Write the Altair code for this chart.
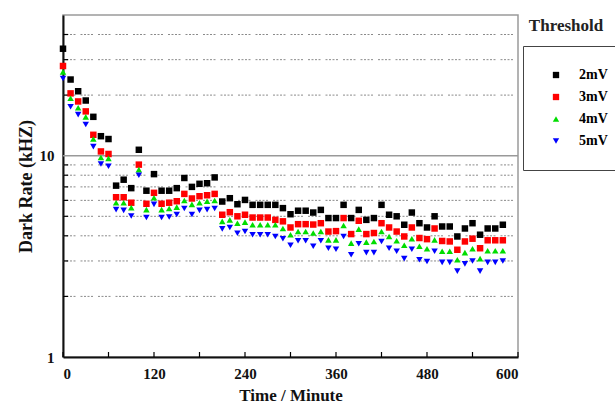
import altair as alt
import pandas as pd

# ---- data ----
times = [0, 10, 20, 30, 40, 50, 60, 70, 80, 90, 100, 110, 120, 130, 140, 150, 160, 170, 180, 190,
         200, 210, 220, 230, 240, 250, 260, 270, 280, 290, 300, 310, 320, 330, 340, 350, 360, 370,
         380, 390, 400, 410, 420, 430, 440, 450, 460, 470, 480, 490, 500, 510, 520, 530, 540, 550,
         560, 570, 580]

rate_2mv = [34.0, 23.9, 20.9, 18.8, 15.6, 12.5, 12.1, 7.1, 7.6, 6.9, 10.7, 6.7, 8.1, 6.7, 6.7, 6.9,
            7.75, 7.0, 7.25, 7.3, 7.8,
            5.92, 6.15, 5.74, 6.03, 5.7, 5.7, 5.7, 5.7, 5.49, 5.12, 5.33, 5.33, 5.22, 5.38, 4.9, 4.9,
            5.7, 4.9, 5.38, 4.8, 4.9, 5.7, 5.09, 5.0, 4.54, 5.22, 4.62, 4.4, 5.0, 4.45, 4.45, 3.97,
            4.35, 4.62, 4.05, 4.35, 4.35, 4.54]
rate_3mv = [27.9, 20.4, 18.6, 16.6, 12.7, 10.5, 10.2, 6.22, 6.22, 5.84, 9.03, 5.77, 6.54, 5.77, 5.84,
            5.94, 6.46, 6.13, 6.29, 6.36, 6.46,
            5.09, 5.24, 5.0, 5.09, 4.93, 4.93, 4.93, 4.8, 4.72, 4.4, 4.57, 4.57, 4.55, 4.62, 4.2, 4.22,
            4.9, 4.08, 4.75, 4.08, 4.13, 4.62, 4.4, 4.2, 3.97, 4.4, 3.9, 3.85, 4.35, 3.77, 3.75, 3.41,
            3.75, 3.87, 3.47, 3.8, 3.8, 3.8]
rate_4mv = [26.1, 19.3, 17.3, 15.6, 12.1, 9.8, 9.7, 5.84, 5.84, 5.52, 8.53, 5.4, 6.18, 5.4, 5.47,
            5.55, 5.99, 5.73, 5.84, 5.94, 5.99,
            4.72, 4.8, 4.62, 4.68, 4.54, 4.54, 4.54, 4.54, 4.35, 4.05, 4.2, 4.2, 4.13, 4.2, 3.82, 3.82,
            4.5, 3.68, 4.32, 3.72, 3.75, 4.2, 3.97, 3.78, 3.59, 3.87, 3.55, 3.45, 3.82, 3.35, 3.35,
            3.04, 3.3, 3.45, 3.08, 3.37, 3.37, 3.37]
rate_5mv = [24.2, 17.5, 16.0, 14.3, 11.1, 9.1, 8.86, 5.4, 5.35, 5.02, 8.0, 4.93, 5.73, 4.93, 4.96,
            5.1, 5.47, 5.1, 5.35, 5.4, 5.47,
            4.33, 4.4, 4.12, 4.2, 4.05, 4.05, 4.05, 3.97, 3.87, 3.59, 3.78, 3.78, 3.55, 3.78, 3.47,
            3.43, 3.97, 3.22, 3.65, 3.3, 3.3, 3.75, 3.47, 3.35, 3.08, 3.43, 3.04, 2.98, 3.35, 2.95,
            2.95, 2.67, 2.9, 3.0, 2.67, 2.95, 2.95, 3.0]

series_names = ["2mV", "3mV", "4mV", "5mV"]
series_colors = ["#000000", "#ff0000", "#00dd00", "#0000ff"]
series_shapes = ["square", "square", "triangle-up", "triangle-down"]

x_ticks = [0, 60, 120, 180, 240, 300, 360, 420, 480, 540, 600]
x_labels = [0, 120, 240, 360, 480, 600]
y_minor = [2, 3, 4, 5, 6, 7, 8, 9, 20, 30, 40]
y_major = [10]

FONT = "Liberation Serif"
W, H = 455, 342

rows = []
for name, vals in zip(series_names, [rate_2mv, rate_3mv, rate_4mv, rate_5mv]):
    for t, v in zip(times, vals):
        rows.append({"Time": t, "Rate": v, "Threshold": name})
df = pd.DataFrame(rows)

xscale = alt.Scale(domain=[0, 600], nice=False)
yscale = alt.Scale(type="log", domain=[1, 50], nice=False)

minor_df = pd.DataFrame({"v": y_minor})
major_df = pd.DataFrame({"v": y_major})
xt_df = pd.DataFrame({"t": x_ticks})

grid_minor = alt.Chart(minor_df).mark_rule(
    color="#8a8a8a", strokeDash=[2, 1.5, 2, 1.5, 2, 1.5, 2, 5], strokeWidth=1).encode(
    y=alt.Y("v:Q", scale=yscale), x=alt.value(0), x2=alt.value(W))
grid_major = alt.Chart(major_df).mark_rule(color="#999999", strokeWidth=1.5).encode(
    y=alt.Y("v:Q", scale=yscale), x=alt.value(0), x2=alt.value(W))
yticks = alt.Chart(minor_df).mark_rule(color="#000000", strokeWidth=1.2).encode(
    y=alt.Y("v:Q", scale=yscale), x=alt.value(0), x2=alt.value(5))
xticks = alt.Chart(xt_df).mark_rule(color="#000000", strokeWidth=1.2).encode(
    x=alt.X("t:Q", scale=xscale), y=alt.value(H), y2=alt.value(H - 5))

points = alt.Chart(df).mark_point(filled=True, size=42, opacity=1).encode(
    x=alt.X("Time:Q", scale=xscale,
            axis=alt.Axis(title="Time / Minute", values=x_labels, format="d", grid=False,
                          ticks=False, labelPadding=9, titlePadding=6, titleFontSize=17)),
    y=alt.Y("Rate:Q", scale=yscale,
            axis=alt.Axis(title="Dark Rate (kHZ)", values=[1, 10], format="d", grid=False,
                          ticks=False, labelPadding=9, titlePadding=4, titleFontSize=18)),
    color=alt.Color("Threshold:N", scale=alt.Scale(domain=series_names, range=series_colors),
                    legend=alt.Legend(title=None, orient="none", legendX=460, legendY=31,
                                      padding=22, strokeColor="#444444", fillColor="white",
                                      labelFont=FONT, labelFontSize=14, labelFontWeight="bold",
                                      symbolSize=40, rowPadding=8, labelOffset=16,
                                      symbolOffset=4, symbolStrokeWidth=0)),
    shape=alt.Shape("Threshold:N", scale=alt.Scale(domain=series_names, range=series_shapes)),
)

title_df = pd.DataFrame({"label": ["Threshold"]})
legend_title = alt.Chart(title_df).mark_text(font=FONT, fontSize=17, fontWeight="bold",
                                             align="center", baseline="middle", color="#222").encode(
    x=alt.value(503), y=alt.value(11), text="label:N")

chart = alt.layer(grid_minor, grid_major, yticks, xticks, points, legend_title).properties(
    width=W, height=H,
    autosize=alt.AutoSizeParams(type="none"),
    padding={"left": 63, "top": 15, "right": 97, "bottom": 53},
).configure_view(stroke="#9a9a9a", strokeWidth=1.5).configure_axis(
    labelFont=FONT, titleFont=FONT, labelFontSize=15,
    labelFontWeight="bold", titleFontWeight="bold", labelColor="#111", titleColor="#111",
    domainColor="#111", domainWidth=2,
)

chart.save("out.html", embed_options={"renderer": "svg", "actions": False})
